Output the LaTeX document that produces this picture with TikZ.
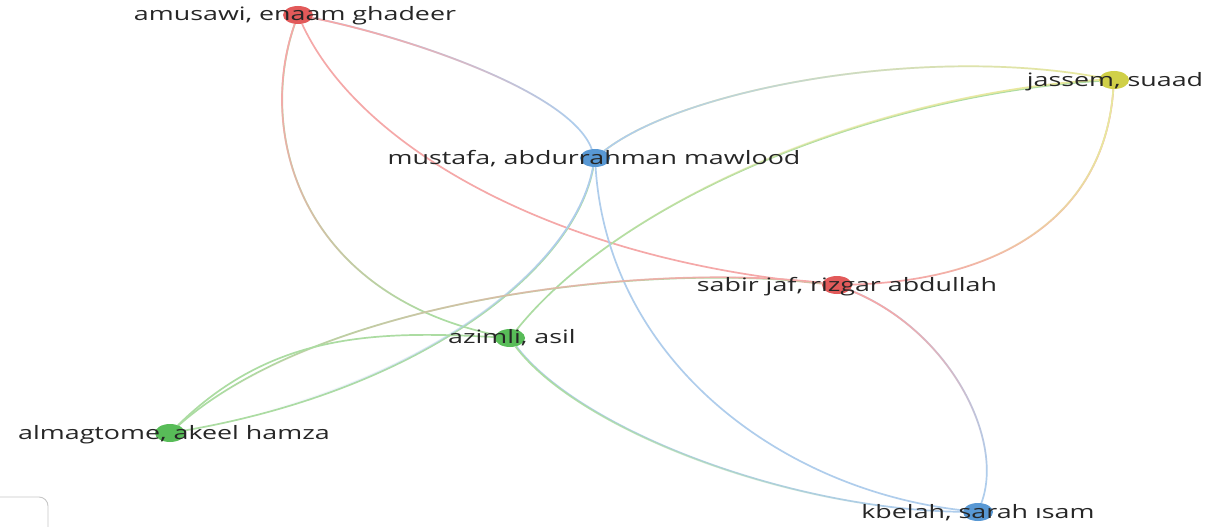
\documentclass[tikz,border=0pt]{standalone}
\usepackage{fontspec}
\setmainfont{Open Sans}[FakeStretch=1.45]
\usetikzlibrary{fadings,backgrounds,shapes.geometric}
\definecolor{nred}{RGB}{226,90,90}
\definecolor{nblue}{RGB}{88,152,212}
\definecolor{ngreen}{RGB}{88,188,88}
\definecolor{nyellow}{RGB}{208,208,72}
\definecolor{ered}{RGB}{245,168,168}
\definecolor{eblue}{RGB}{175,205,236}
\definecolor{egreen}{RGB}{172,220,162}
\definecolor{eyellow}{RGB}{232,232,158}
\tikzfading[name=edgefade, left color=transparent!0, right color=transparent!100]
\tikzset{
  vnode/.style={ellipse, minimum width=30pt, minimum height=18pt, inner sep=0pt, draw=none, fill=#1},
  lbl/.style={font=\fontsize{18.5}{20}\selectfont, text=black!85, anchor=base, inner sep=0pt},
  link/.style={line width=1.7pt}
}
\newcommand\gedge[7]{%
  \draw[link,#4] (#1) .. controls #5 and #6 .. (#2);
  \draw[link,#3,path fading=edgefade,fading angle=#7] (#1) .. controls #5 and #6 .. (#2);
}
\newcommand\sedge[5]{%
  \draw[link,#3] (#1) .. controls #4 and #5 .. (#2);
}
\begin{document}
\begin{tikzpicture}[x=1pt,y=-1pt]
\useasboundingbox (0,0) rectangle (1213,527);
% nodes
\node[vnode=nred]    (amusawi)   at (298,15)  {};
\node[vnode=nyellow] (jassem)    at (1114,80) {};
\node[vnode=nblue]   (mustafa)   at (595,158) {};
\node[vnode=nred]    (sabir)     at (837,285) {};
\node[vnode=ngreen]  (azimli)    at (510,338) {};
\node[vnode=ngreen]  (almagtome) at (170,433) {};
\node[vnode=nblue]   (kbelah)    at (978,512) {};
% edges
\begin{pgfonlayer}{background}
\fill[white] (0,0) rectangle (1213,527);
\gedge{amusawi}{azimli}{ered}{egreen}{(256,135)}{(302,294)}{-56.7}
\sedge{amusawi}{sabir}{ered}{(360,150)}{(560,260)}
\gedge{amusawi}{mustafa}{ered}{eblue}{(400,35)}{(570,90)}{-25.7}
\gedge{mustafa}{jassem}{eblue}{eyellow}{(685,88)}{(925,45)}{8.5}
\gedge{jassem}{azimli}{eyellow}{egreen}{(880,95)}{(625,195)}{-156.9}
\gedge{jassem}{sabir}{eyellow}{ered}{(1105,210)}{(1010,280)}{-143.5}
\gedge{mustafa}{almagtome}{eblue}{egreen}{(575,270)}{(420,390)}{-147.1}
\sedge{mustafa}{kbelah}{eblue}{(608,360)}{(780,490)}
\gedge{sabir}{kbelah}{ered}{eblue}{(950,330)}{(1005,440)}{-58.2}
\gedge{sabir}{almagtome}{ered}{egreen}{(640,262)}{(320,300)}{-167.5}
\sedge{azimli}{almagtome}{egreen}{(370,330)}{(270,335)}
\gedge{azimli}{kbelah}{egreen}{eblue}{(580,430)}{(790,510)}{-20.4}
\end{pgfonlayer}
% labels
\node[lbl] (amusawi-t)   at (295,21)  {amusawi, enaam ghadeer};
\node[lbl] (jassem-t)    at (1115,86) {jassem, suaad};
\node[lbl] (mustafa-t)   at (594,164) {mustafa, abdurrahman mawlood};
\node[lbl] (sabir-t)     at (847,291) {sabir jaf, rizgar abdullah};
\node[lbl] (azimli-t)    at (512,343) {azimli, asil};
\node[lbl] (almagtome-t) at (174,439) {almagtome, akeel hamza};
\node[lbl] (kbelah-t)    at (978,518) {kbelah, sarah ısam};
% UI fragment bottom-left
\draw[black!22, line width=0.9pt, rounded corners=9pt] (-5,497) -- (48,497) -- (48,540);
\end{tikzpicture}
\end{document}
